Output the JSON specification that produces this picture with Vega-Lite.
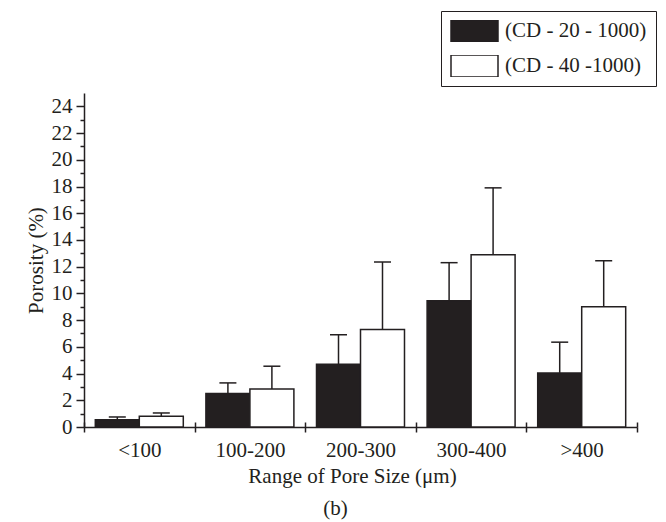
{
  "$schema": "https://vega.github.io/schema/vega-lite/v6.json",
  "autosize": {"type": "none"},
  "padding": {"left": 84, "top": 93, "right": 29, "bottom": 95},
  "width": 553,
  "height": 334,
  "background": "white",
  "title": {"text": "(b)", "orient": "bottom", "anchor": "middle", "dx": -25, "offset": 12, "font": "Liberation Serif", "fontSize": 21, "fontWeight": "normal", "color": "#231f20"},
  "data": {
    "values": [
      {"range": "<100", "sample": "(CD - 20 - 1000)", "porosity": 0.55, "upper": 0.75},
      {"range": "<100", "sample": "(CD - 40 -1000)", "porosity": 0.8, "upper": 1.05},
      {"range": "100-200", "sample": "(CD - 20 - 1000)", "porosity": 2.5, "upper": 3.3},
      {"range": "100-200", "sample": "(CD - 40 -1000)", "porosity": 2.85, "upper": 4.55},
      {"range": "200-300", "sample": "(CD - 20 - 1000)", "porosity": 4.7, "upper": 6.9},
      {"range": "200-300", "sample": "(CD - 40 -1000)", "porosity": 7.3, "upper": 12.35},
      {"range": "300-400", "sample": "(CD - 20 - 1000)", "porosity": 9.45, "upper": 12.3},
      {"range": "300-400", "sample": "(CD - 40 -1000)", "porosity": 12.9, "upper": 17.9},
      {"range": ">400", "sample": "(CD - 20 - 1000)", "porosity": 4.05, "upper": 6.35},
      {"range": ">400", "sample": "(CD - 40 -1000)", "porosity": 9.0, "upper": 12.45}
    ]
  },
  "encoding": {
    "x": {"field": "range", "type": "nominal", "sort": ["<100", "100-200", "200-300", "300-400", ">400"], "scale": {"paddingInner": 0, "paddingOuter": 0}},
    "xOffset": {"field": "sample", "type": "nominal", "sort": ["(CD - 20 - 1000)", "(CD - 40 -1000)"], "scale": {"paddingInner": 0, "paddingOuter": 0.257}}
  },
  "layer": [
    {
      "mark": {"type": "bar", "stroke": "#231f20", "strokeWidth": 1.5},
      "encoding": {
        "x": {"field": "range", "type": "nominal", "sort": ["<100", "100-200", "200-300", "300-400", ">400"],
          "axis": {"orient": "bottom", "title": "Range of Pore Size (μm)", "tickBand": "extent", "tickSize": 5, "labelAngle": 0, "labelPadding": 7, "titlePadding": 5, "titleX": 268}},
        "y": {"field": "porosity", "type": "quantitative", "scale": {"domain": [0, 25], "nice": false},
          "axis": {"orient": "left", "title": "Porosity (%)", "values": [0, 2, 4, 6, 8, 10, 12, 14, 16, 18, 20, 22, 24], "tickSize": 8, "labelPadding": 4, "titlePadding": 5}},
        "fill": {"field": "sample", "type": "nominal", "sort": ["(CD - 20 - 1000)", "(CD - 40 -1000)"],
          "scale": {"range": ["#231f20", "#ffffff"]},
          "legend": {"orient": "none", "legendX": 357, "legendY": -82, "title": null,
            "symbolType": "M-1,-0.468H1V0.468H-1Z", "symbolSize": 2209, "clipHeight": 22,
            "symbolStrokeColor": "#231f20", "symbolStrokeWidth": 1.5,
            "labelFont": "Liberation Serif", "labelFontSize": 21, "labelColor": "#231f20",
            "labelOffset": 6, "rowPadding": 13, "padding": 9, "strokeColor": "#231f20"}}
      }
    },
    {
      "mark": {"type": "rule", "stroke": "#231f20", "strokeWidth": 1.5},
      "encoding": {
        "x": {"field": "range", "type": "nominal", "sort": ["<100", "100-200", "200-300", "300-400", ">400"], "axis": null},
        "y": {"field": "porosity", "type": "quantitative", "axis": null},
        "y2": {"field": "upper"}
      }
    },
    {
      "mark": {"type": "tick", "color": "#231f20", "size": 17, "thickness": 1.5, "opacity": 1},
      "encoding": {
        "x": {"field": "range", "type": "nominal", "sort": ["<100", "100-200", "200-300", "300-400", ">400"],
          "axis": {"orient": "bottom", "title": null, "labels": false, "domain": false, "tickBand": "extent", "tickSize": -5}},
        "y": {"field": "upper", "type": "quantitative",
          "axis": {"orient": "left", "title": null, "labels": false, "domain": false, "values": [1, 3, 5, 7, 9, 11, 13, 15, 17, 19, 21, 23], "tickSize": 4}}
      }
    }
  ],
  "resolve": {"axis": {"x": "independent", "y": "independent"}},
  "config": {
    "view": {"stroke": null},
    "axis": {"domainColor": "#231f20", "domainWidth": 1.5, "tickColor": "#231f20", "tickWidth": 1.5, "grid": false,
      "labelFont": "Liberation Serif", "labelFontSize": 21, "labelColor": "#231f20",
      "titleFont": "Liberation Serif", "titleFontSize": 21, "titleFontWeight": "normal", "titleColor": "#231f20"}
  }
}
